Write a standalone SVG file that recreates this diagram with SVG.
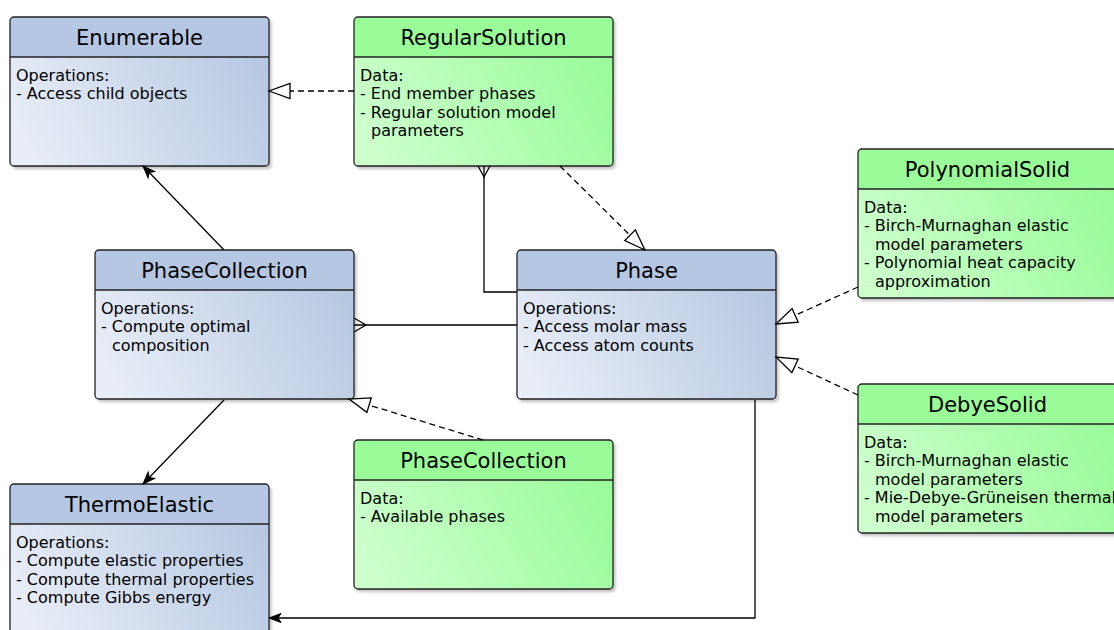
<svg xmlns="http://www.w3.org/2000/svg" xmlns:xlink="http://www.w3.org/1999/xlink" width="1114" height="630" viewBox="0 0 1114 630">
  <style>
    .title { font-family: "DejaVu Sans", "Liberation Sans", sans-serif; font-size: 21px; text-anchor: middle; fill: #000; }
    .body { font-family: "DejaVu Sans", "Liberation Sans", sans-serif; font-size: 16px; fill: #000; }
    .edge { fill: none; stroke: #000; stroke-width: 1.3; }
    .dash { stroke-dasharray: 6 4; }
    .outline { fill: none; stroke: #222; stroke-width: 1.3; }
  </style>
  <defs>
    <linearGradient id="gBlue" x1="0" y1="0.65" x2="1" y2="0.35">
      <stop offset="0" stop-color="#e8edf7"/>
      <stop offset="1" stop-color="#b6c8e2"/>
    </linearGradient>
    <linearGradient id="gGreen" x1="0" y1="0.65" x2="1" y2="0.35">
      <stop offset="0" stop-color="#ccffcc"/>
      <stop offset="1" stop-color="#99fc99"/>
    </linearGradient>
    <filter id="shadow" x="-5%" y="-5%" width="115%" height="115%">
      <feDropShadow dx="2.5" dy="3" stdDeviation="1.5" flood-color="#000" flood-opacity="0.25"/>
    </filter>
    <!-- class box shells: header band + gradient body -->
    <g id="blueShell">
      <rect x="0" y="0" width="259" height="149" rx="4" fill="url(#gBlue)" filter="url(#shadow)"/>
      <path d="M0,40 V4 Q0,0 4,0 H255 Q259,0 259,4 V40 Z" fill="#b5c7e2"/>
      <line x1="0" y1="40" x2="259" y2="40" stroke="#222" stroke-width="1.3"/>
      <rect class="outline" x="0" y="0" width="259" height="149" rx="4"/>
    </g>
    <g id="greenShell">
      <rect x="0" y="0" width="259" height="149" rx="4" fill="url(#gGreen)" filter="url(#shadow)"/>
      <path d="M0,40 V4 Q0,0 4,0 H255 Q259,0 259,4 V40 Z" fill="#99fc99"/>
      <line x1="0" y1="40" x2="259" y2="40" stroke="#222" stroke-width="1.3"/>
      <rect class="outline" x="0" y="0" width="259" height="149" rx="4"/>
    </g>
    <marker id="arrowFilled" viewBox="-14 -7 16 14" refX="0" refY="0" markerWidth="16" markerHeight="14" markerUnits="userSpaceOnUse" orient="auto">
      <path d="M0,0 L-12,-4.5 L-9,0 L-12,4.5 Z" fill="#000" stroke="#000" stroke-width="1" stroke-dasharray="none"/>
    </marker>
    <marker id="arrowHollow" viewBox="-24 -10 26 20" refX="0" refY="0" markerWidth="26" markerHeight="20" markerUnits="userSpaceOnUse" orient="auto">
      <path d="M0,0 L-21,-7.5 L-21,7.5 Z" fill="#fff" stroke="#000" stroke-width="1.3" stroke-dasharray="none"/>
    </marker>
  </defs>

  <rect width="1114" height="630" fill="#fff"/>

  <g id="node-enumerable" transform="translate(10,17)">
    <use xlink:href="#blueShell"/>
    <text class="title" x="129.5" y="28">Enumerable</text>
    <text class="body" x="6" y="63.5">Operations:</text>
    <text class="body" x="6" y="82.1">- Access child objects</text>
  </g>

  <g id="node-regularsolution" transform="translate(354,17)">
    <use xlink:href="#greenShell"/>
    <text class="title" x="129.5" y="28">RegularSolution</text>
    <text class="body" x="6" y="63.5">Data:</text>
    <text class="body" x="6" y="82.1">- End member phases</text>
    <text class="body" x="6" y="100.7">- Regular solution model</text>
    <text class="body" x="17" y="119.3">parameters</text>
  </g>

  <g id="node-polynomialsolid" transform="translate(858,149)">
    <use xlink:href="#greenShell"/>
    <text class="title" x="129.5" y="28">PolynomialSolid</text>
    <text class="body" x="6" y="63.5">Data:</text>
    <text class="body" x="6" y="82.1">- Birch-Murnaghan elastic</text>
    <text class="body" x="17" y="100.7">model parameters</text>
    <text class="body" x="6" y="119.3">- Polynomial heat capacity</text>
    <text class="body" x="17" y="137.9">approximation</text>
  </g>

  <g id="node-phasecollection" transform="translate(95,250)">
    <use xlink:href="#blueShell"/>
    <text class="title" x="129.5" y="28">PhaseCollection</text>
    <text class="body" x="6" y="63.5">Operations:</text>
    <text class="body" x="6" y="82.1">- Compute optimal</text>
    <text class="body" x="17" y="100.7">composition</text>
  </g>

  <g id="node-phase" transform="translate(517,250)">
    <use xlink:href="#blueShell"/>
    <text class="title" x="129.5" y="28">Phase</text>
    <text class="body" x="6" y="63.5">Operations:</text>
    <text class="body" x="6" y="82.1">- Access molar mass</text>
    <text class="body" x="6" y="100.7">- Access atom counts</text>
  </g>

  <g id="node-debyesolid" transform="translate(858,384)">
    <use xlink:href="#greenShell"/>
    <text class="title" x="129.5" y="28">DebyeSolid</text>
    <text class="body" x="6" y="63.5">Data:</text>
    <text class="body" x="6" y="82.1">- Birch-Murnaghan elastic</text>
    <text class="body" x="17" y="100.7">model parameters</text>
    <text class="body" x="6" y="119.3">- Mie-Debye-Grüneisen thermal</text>
    <text class="body" x="17" y="137.9">model parameters</text>
  </g>

  <g id="node-phasecollection-data" transform="translate(354,440)">
    <use xlink:href="#greenShell"/>
    <text class="title" x="129.5" y="28">PhaseCollection</text>
    <text class="body" x="6" y="63.5">Data:</text>
    <text class="body" x="6" y="82.1">- Available phases</text>
  </g>

  <g id="node-thermoelastic" transform="translate(10,484)">
    <use xlink:href="#blueShell"/>
    <text class="title" x="129.5" y="28">ThermoElastic</text>
    <text class="body" x="6" y="63.5">Operations:</text>
    <text class="body" x="6" y="82.1">- Compute elastic properties</text>
    <text class="body" x="6" y="100.7">- Compute thermal properties</text>
    <text class="body" x="6" y="119.3">- Compute Gibbs energy</text>
  </g>

  <g id="connectors">
    <!-- realizations (dashed, hollow triangle) -->
    <path class="edge dash" d="M354,91 L269,91" marker-end="url(#arrowHollow)"/>
    <path class="edge dash" d="M560,166 L645,250" marker-end="url(#arrowHollow)"/>
    <path class="edge dash" d="M858,287 L776,324" marker-end="url(#arrowHollow)"/>
    <path class="edge dash" d="M858,395 L776,357" marker-end="url(#arrowHollow)"/>
    <path class="edge dash" d="M483,440 L349,399" marker-end="url(#arrowHollow)"/>
    <!-- directed associations -->
    <path class="edge" d="M224,250 L143,166" marker-end="url(#arrowFilled)"/>
    <path class="edge" d="M224,400 L143,484" marker-end="url(#arrowFilled)"/>
    <path class="edge" d="M755,400 V618 H269" marker-end="url(#arrowFilled)"/>
    <!-- many-side links with crow's feet -->
    <path class="edge" d="M484,166 V292 H517"/>
    <path class="edge" d="M478,166 L484,177 L490,166"/>
    <path class="edge" d="M354,325 H517"/>
    <path class="edge" d="M354,318 L366,325 L354,332"/>
  </g>
</svg>
